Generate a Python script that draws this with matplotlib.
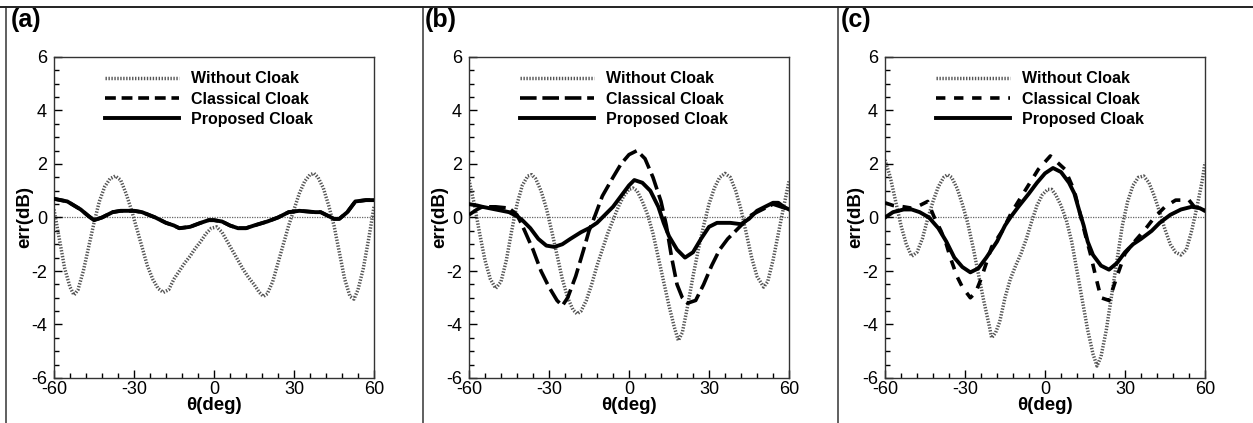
import numpy as np
import matplotlib
matplotlib.use("Agg")
import matplotlib.pyplot as plt
from matplotlib.lines import Line2D
from matplotlib.ticker import MultipleLocator

plt.rcParams["font.family"] = ["Liberation Sans", "DejaVu Sans"]
plt.rcParams["axes.unicode_minus"] = False

# ---- data (theta in deg, err in dB) ----
# panel (a)
wo_a_x = [-60, -58, -56, -54, -52.5, -51, -49, -47, -45, -43, -41, -39, -37, -35, -33, -31, -29, -27, -25,
          -23, -21, -19, -17, -15, -13, -11, -9, -7, -5, -3, -1, 1, 3, 5, 7, 9, 11, 13, 15, 17, 18.5, 20,
          22, 24, 26, 28, 30, 32, 34, 36, 37.5, 39, 41, 43, 45, 47, 49, 51, 52.5, 54, 56, 58, 60]
wo_a_y = [0.3, -0.8, -1.9, -2.6, -2.9, -2.7, -2.0, -1.1, -0.2, 0.6, 1.15, 1.45, 1.55, 1.4, 0.9, 0.3, -0.4,
          -1.1, -1.8, -2.3, -2.65, -2.8, -2.7, -2.3, -2.0, -1.7, -1.45, -1.15, -0.9, -0.6, -0.4, -0.35,
          -0.55, -0.9, -1.25, -1.6, -1.95, -2.25, -2.5, -2.8, -2.95, -2.85, -2.4, -1.7, -1.0, -0.3, 0.3,
          0.9, 1.35, 1.6, 1.65, 1.5, 1.1, 0.45, -0.3, -1.3, -2.3, -2.95, -3.05, -2.7, -1.9, -0.8, 0.4]
pr_a_x = [-60, -55, -50, -47, -45, -42, -38, -35, -30, -27, -22, -18, -15, -13, -9, -5, -2, 0, 3, 6, 9,
          12, 15, 20, 24, 28, 32, 38, 40, 42, 45, 47, 50, 53, 57, 60]
pr_a_y = [0.7, 0.6, 0.3, 0.05, -0.1, 0.0, 0.2, 0.25, 0.25, 0.2, 0.0, -0.2, -0.3, -0.4, -0.35, -0.2, -0.1,
          -0.1, -0.15, -0.3, -0.4, -0.4, -0.3, -0.15, 0.0, 0.2, 0.25, 0.2, 0.2, 0.1, -0.05, -0.05, 0.2,
          0.6, 0.65, 0.65]
cl_a_x = pr_a_x
cl_a_y = pr_a_y

# panel (b)
wo_b_x = [-60, -58, -56, -54, -52, -50, -48, -46, -44, -42, -40, -38, -36.5, -35, -33, -31, -29, -27, -25,
          -23, -21, -19.5, -18, -16, -14, -12, -10, -8, -6, -4, -2, 0, 1.5, 3, 5, 7, 9, 11, 13, 15, 17,
          18.5, 20, 22, 24, 26, 28, 30, 32, 34, 36, 38, 40, 42, 44, 46, 48, 50.5, 52, 54, 56, 58, 60]
wo_b_y = [1.4, 0.5, -0.6, -1.6, -2.3, -2.65, -2.4, -1.6, -0.5, 0.5, 1.2, 1.55, 1.6, 1.45, 1.0, 0.35, -0.5,
          -1.4, -2.3, -3.0, -3.45, -3.6, -3.5, -3.1, -2.5, -1.8, -1.2, -0.6, -0.1, 0.4, 0.8, 1.05, 1.1,
          1.0, 0.6, 0.1, -0.6, -1.5, -2.4, -3.3, -4.1, -4.6, -4.3, -3.3, -2.2, -1.2, -0.3, 0.5, 1.1, 1.5,
          1.65, 1.5, 1.0, 0.3, -0.6, -1.5, -2.2, -2.6, -2.4, -1.6, -0.6, 0.4, 1.35]
cl_b_x = [-60, -57, -55, -50, -45, -42, -40, -36, -33, -30, -27, -25, -23, -20, -17, -15, -13, -10, -6, -3,
          0, 3, 6, 9, 12, 14, 16, 18, 20, 22, 25, 28, 31, 34, 37, 40, 43, 46, 50, 54, 57, 60]
cl_b_y = [0.1, 0.3, 0.4, 0.4, 0.35, 0.1, -0.3, -1.2, -2.0, -2.6, -3.1, -3.3, -3.0, -2.2, -1.2, -0.5, 0.0,
          0.8, 1.5, 2.0, 2.35, 2.5, 2.2, 1.5, 0.6, -0.3, -1.5, -2.5, -3.0, -3.2, -3.1, -2.5, -1.8, -1.2,
          -0.8, -0.5, -0.2, 0.1, 0.3, 0.5, 0.4, 0.3]
pr_b_x = [-60, -57, -55, -50, -45, -42, -40, -37, -34, -31, -28, -25, -22, -18, -15, -12, -9, -6, -3, 0, 2,
          5, 8, 11, 13, 15, 18, 21, 24, 27, 30, 33, 38, 42, 45, 48, 51, 54, 56, 58, 60]
pr_b_y = [0.5, 0.45, 0.4, 0.3, 0.2, 0.05, -0.1, -0.4, -0.8, -1.05, -1.1, -1.0, -0.8, -0.55, -0.4, -0.2,
          0.1, 0.4, 0.8, 1.2, 1.4, 1.3, 1.0, 0.4, -0.2, -0.7, -1.2, -1.5, -1.3, -0.8, -0.35, -0.2, -0.2,
          -0.25, -0.05, 0.25, 0.4, 0.55, 0.55, 0.4, 0.3]

# panel (c)
wo_c_x = [-60, -58, -56, -54, -52, -50, -48, -46, -44, -42, -40, -38, -36.5, -35, -33, -31, -29, -27, -25,
          -23, -21, -20, -18.5, -17, -15, -13, -11, -9, -7, -5, -3, -1, 1, 2.5, 4, 6, 8, 10, 12, 14, 16,
          18, 19.5, 21, 23, 25, 27, 29, 31, 33, 35, 37, 39, 41, 43, 45, 47, 49, 51, 53, 55, 57, 59, 60]
wo_c_y = [2.15, 1.5, 0.6, -0.3, -1.0, -1.45, -1.3, -0.8, -0.05, 0.6, 1.15, 1.5, 1.6, 1.5, 1.1, 0.5, -0.2,
          -1.1, -2.1, -3.1, -4.0, -4.5, -4.3, -3.9, -3.0, -2.3, -1.8, -1.35, -0.8, -0.15, 0.45, 0.85,
          1.05, 1.05, 0.85, 0.45, -0.1, -0.9, -2.0, -3.1, -4.2, -5.1, -5.55, -5.2, -4.2, -2.9, -1.6,
          -0.3, 0.6, 1.2, 1.5, 1.55, 1.3, 0.8, 0.2, -0.45, -1.0, -1.3, -1.4, -1.2, -0.5, 0.4, 1.4, 2.05]
cl_c_x = [-60, -57, -53, -50, -47, -44, -41.5, -39, -37, -35.5, -33, -31, -28, -26, -24, -22, -20, -16,
          -12.5, -7.5, -2.5, 2, 7.5, 11, 15, 17, 19, 21, 24, 27, 30, 34, 37.5, 41, 45, 49, 54, 56, 60]
cl_c_y = [0.55, 0.45, 0.4, 0.35, 0.45, 0.6, 0.0, -0.5, -1.0, -1.5, -2.2, -2.6, -3.0, -2.8, -2.3, -1.7,
          -1.1, -0.5, 0.2, 1.0, 1.8, 2.3, 1.8, 1.0, -0.6, -1.35, -2.2, -3.0, -3.1, -2.2, -1.35, -0.85,
          -0.45, 0.0, 0.4, 0.65, 0.65, 0.4, 0.25]
pr_c_x = [-60, -57, -53, -50, -47, -43.5, -40, -37, -34, -31, -28, -25, -22, -18, -15, -13, -10, -6, -3, 0,
          3, 6, 9, 11, 13, 14.5, 16, 18, 21, 24, 27, 30, 33, 36, 40, 43, 47, 51, 55, 58, 60]
pr_c_y = [0.0, 0.2, 0.3, 0.3, 0.2, 0.0, -0.4, -0.9, -1.5, -1.85, -2.05, -1.9, -1.5, -0.9, -0.3, 0.0, 0.4,
          0.9, 1.3, 1.65, 1.85, 1.7, 1.3, 0.9, 0.2, -0.3, -0.9, -1.4, -1.8, -1.95, -1.7, -1.3, -1.0, -0.8,
          -0.5, -0.2, 0.1, 0.3, 0.4, 0.35, 0.25]

panels = [
    ("(a)", wo_a_x, wo_a_y, cl_a_x, cl_a_y, pr_a_x, pr_a_y, (3.0, 1.6)),
    ("(b)", wo_b_x, wo_b_y, cl_b_x, cl_b_y, pr_b_x, pr_b_y, (4.6, 1.6)),
    ("(c)", wo_c_x, wo_c_y, cl_c_x, cl_c_y, pr_c_x, pr_c_y, (2.6, 2.4)),
]

W, H = 1253, 423
fig = plt.figure(figsize=(W / 100, H / 100), dpi=100)

ax_left = [54, 469, 885]
frame_x = [6, 423, 838]
label_x = [11, 425, 841]

for i, (tag, wx, wy, cx, cy, px, py, dash) in enumerate(panels):
    ax = fig.add_axes([ax_left[i] / W, 1 - 378 / H, 320 / W, 321 / H])
    ax.axhline(0, color="#666666", lw=0.9, ls=(0, (1, 1)), zorder=1)
    ax.plot(wx, wy, color="#555555", lw=2.5, ls=(0, (0.4, 0.45)), label="Without Cloak", zorder=2)
    ax.plot(cx, cy, color="black", lw=2.6, ls=(0, dash), label="Classical Cloak", zorder=3)
    ax.plot(px, py, color="black", lw=2.8, label="Proposed Cloak", zorder=4)

    ax.set_xlim(-60, 60)
    ax.set_ylim(-6, 6)
    ax.xaxis.set_major_locator(MultipleLocator(30))
    ax.xaxis.set_minor_locator(MultipleLocator(6))
    ax.yaxis.set_major_locator(MultipleLocator(2))
    ax.yaxis.set_minor_locator(MultipleLocator(0.5))
    ax.tick_params(which="both", direction="in", top=False, right=False, width=1)
    ax.tick_params(which="major", length=6, labelsize=13, pad=2.5)
    ax.tick_params(which="minor", length=3.5)
    ax.tick_params(axis="y", which="major", pad=5)
    for s in ax.spines.values():
        s.set_linewidth(1)
        s.set_color("#333333")

    ax.set_xlabel("θ(deg)", fontsize=13.5, fontweight="bold", labelpad=-1)
    ax.set_ylabel("err(dB)", fontsize=13.5, fontweight="bold")
    ax.yaxis.set_label_coords(-0.066, 0.5)

    ax.legend(loc="upper left", bbox_to_anchor=(0.16, 0.955), frameon=False,
              prop={"size": 11.5, "weight": "bold"}, handlelength=4.6, handletextpad=0.8,
              labelspacing=0.32, borderpad=0, borderaxespad=0)

    fig.text(label_x[i] / W, 1 - 8 / H, tag, fontsize=18, fontweight="bold", va="top", ha="left")
    fig.add_artist(Line2D([frame_x[i] / W] * 2, [0, 1 - 7 / H], color="#444444", lw=1.2))

fig.add_artist(Line2D([0, 1], [1 - 7 / H, 1 - 7 / H], color="#222222", lw=1.4))

fig.savefig("out.png", dpi=100)
